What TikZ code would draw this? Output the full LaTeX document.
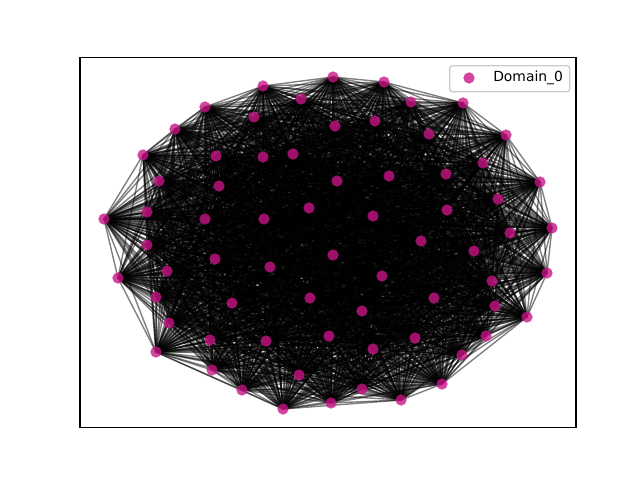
\documentclass[tikz,border=0pt]{standalone}
\usepackage{fontspec}
\setmainfont{DejaVu Sans}
\definecolor{mvr}{RGB}{199,21,133}
\definecolor{legedge}{RGB}{204,204,204}
\begin{document}
\begin{tikzpicture}[x=0.72pt,y=-0.72pt,
  edge/.style={draw=black,line width=1pt,draw opacity=0.5},
  dot/.style={circle,fill=mvr,fill opacity=0.8,inner sep=0pt,minimum size=8.1pt},
  frame/.style={draw=black,line width=0.8pt},
  legbox/.style={draw=legedge,fill=white,fill opacity=0.8,line width=1pt,rounded corners=2pt}]
\useasboundingbox (0,0) rectangle (640,480);
\foreach \x/\y [count=\i] in {
333/77,384/82,263/86,463/103,411/102,301/99,205/107,506/135,375/121,335/126,
254/117,429/134,175/129,143/155,216/156,263/157,293/154,483/163,446/174,389/176,
337/181,159/181,219/186,540/182,498/199,147/212,104/219,205/219,264/219,309/208,
373/216,447/210,552/228,510/233,421/241,147/245,215/259,333/255,474/251,118/278,
167/271,270/267,382/276,547/273,492/281,156/297,232/303,310/298,434/298,495/306,
362/311,527/317,169/323,486/336,210/340,266/341,329/336,415/338,156/352,373/349,
462/355,212/370,299/375,442/384,242/390,362/389,331/403,401/400,283/409}
  {\coordinate (n\i) at (\x,\y);}
\foreach \i in {1,...,68}{
  \pgfmathtruncatemacro\k{\i+1}
  \foreach \j in {\k,...,69}{\draw[edge] (n\i) -- (n\j);}
}
\foreach \i in {1,...,69}{\node[dot] (m\i) at (n\i) {};}
\draw[frame] (80,57.6) rectangle (576,427.2);
\node[legbox,minimum width=120*0.72pt,minimum height=26*0.72pt,anchor=north west,inner sep=0pt] (leg) at (449,65) {};
\node[dot] (legdot) at (469,78) {};
\node[anchor=west,inner sep=0pt,font=\fontsize{10pt}{12pt}\selectfont] (legtxt) at (493,77.5) {Domain\_0};
\end{tikzpicture}
\end{document}
